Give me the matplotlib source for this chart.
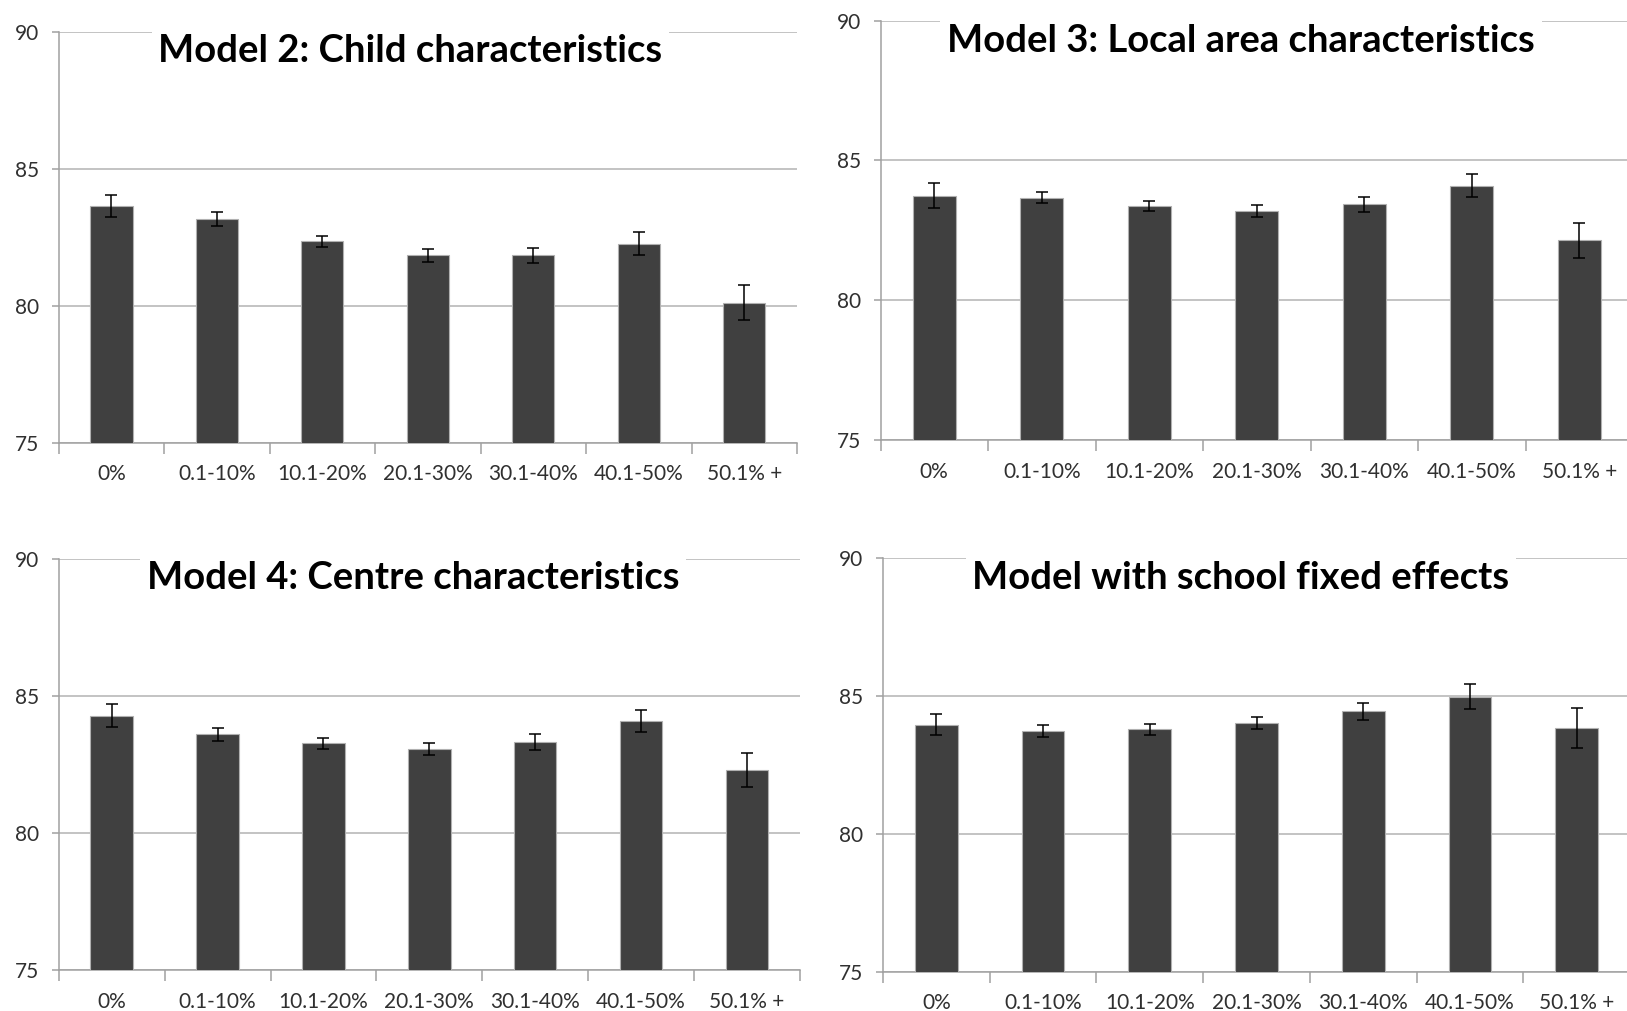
import matplotlib.pyplot as plt
import numpy as np

categories = ['0%', '0.1-10%', '10.1-20%', '20.1-30%', '30.1-40%', '40.1-50%', '50.1% +']

child_means = [83.64, 83.16, 82.36, 81.84, 81.84, 82.27, 80.11]
child_err = [0.41, 0.25, 0.20, 0.23, 0.27, 0.41, 0.63]

local_means = [83.74, 83.67, 83.36, 83.19, 83.43, 84.10, 82.14]
local_err = [0.45, 0.20, 0.18, 0.21, 0.28, 0.40, 0.63]

centre_means = [84.27, 83.59, 83.27, 83.07, 83.32, 84.07, 82.31]
centre_err = [0.42, 0.25, 0.20, 0.22, 0.29, 0.40, 0.62]

school_fe_means = [83.95, 83.71, 83.79, 84.00, 84.43, 84.96, 83.83]
school_fe_err = [0.39, 0.22, 0.20, 0.22, 0.30, 0.45, 0.72]

titles = ['Model 2: Child characteristics',
          'Model 3: Local area characteristics',
          'Model 4: Centre characteristics',
          'Model with school fixed effects']

W, H = 1627, 1011
fig = plt.figure(figsize=(W / 100, H / 100), dpi=100)

# pixel boxes (left, top, right, bottom) and title anchor (x centre, baseline)
boxes = [(58.7, 31.7, 797, 442.7),
         (880.5, 20.7, 1633, 440),
         (58.7, 558.7, 800, 970),
         (883, 557.7, 1630, 971.7)]
title_pos = [(410.5, 61.5), (1241, 51.5), (413, 589), (1241, 589)]

series = [(child_means, child_err), (local_means, local_err),
          (centre_means, centre_err), (school_fe_means, school_fe_err)]

axis_grey = '#a0a0a0'
x = np.arange(len(categories))

for (l, t, r, b), (means, err), title, (tx, ty) in zip(boxes, series, titles, title_pos):
    ax = fig.add_axes([l / W, 1 - b / H, (r - l) / W, (b - t) / H])
    ax.bar(x, means, width=0.4, color='#404040', edgecolor='#b0b0b0', linewidth=0.8,
           yerr=err, capsize=4.5,
           error_kw=dict(ecolor='black', elinewidth=1.1, capthick=1.1), zorder=3)
    ax.set_xlim(-0.5, len(categories) - 0.5)
    ax.set_ylim(75, 90)
    ax.set_yticks([75, 80, 85, 90])
    ax.yaxis.grid(True, color='#b3b3b3', linewidth=1.1, zorder=0)
    ax.set_axisbelow(True)
    for side in ['top', 'right']:
        ax.spines[side].set_visible(False)
    for side in ['left', 'bottom']:
        ax.spines[side].set_color(axis_grey)
        ax.spines[side].set_linewidth(1.1)

    ax.set_xticks(x)
    ax.set_xticklabels(categories)
    ax.set_xticks(np.arange(-0.5, len(categories), 1), minor=True)
    ax.tick_params(axis='x', which='major', length=0, pad=15.5)
    ax.tick_params(axis='x', which='minor', length=8, width=1.1, color=axis_grey, direction='out')
    ax.tick_params(axis='y', length=5, width=1.1, color=axis_grey, direction='out', pad=9)
    for lab in ax.get_xticklabels() + ax.get_yticklabels():
        lab.set_fontfamily('Lato')
        lab.set_fontsize(15)
        lab.set_color('#303030')

    fig.text(tx / W, 1 - ty / H, title, ha='center', va='baseline',
             fontsize=27.5, fontweight='bold', family='Lato', color='black',
             bbox=dict(facecolor='white', edgecolor='none', pad=5), zorder=5)

fig.savefig('out.png', dpi=100)
